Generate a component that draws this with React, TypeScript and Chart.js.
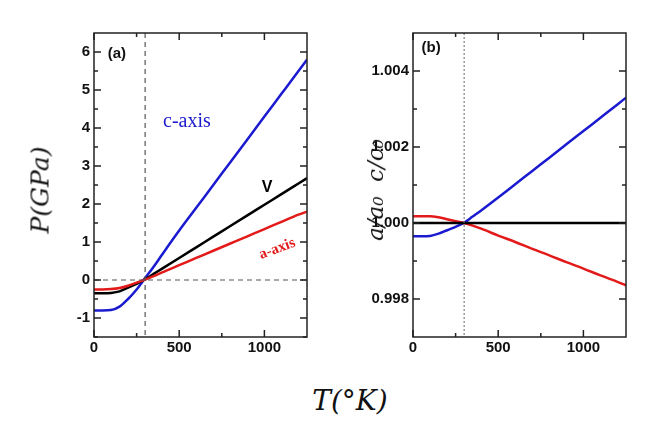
import React, { useEffect, useRef } from "react";
import { Chart, registerables } from "chart.js";
Chart.register(...registerables);

const temps = [0, 50, 100, 150, 200, 250, 300, 350, 400, 500, 600, 700, 800, 900, 1000, 1100, 1200, 1250];
const pC = [-0.8, -0.8, -0.79, -0.7, -0.5, -0.25, 0.05, 0.35, 0.67, 1.3, 1.9, 2.5, 3.1, 3.7, 4.3, 4.9, 5.5, 5.8];
const pV = [-0.35, -0.35, -0.34, -0.3, -0.2, -0.1, 0.02, 0.16, 0.3, 0.58, 0.86, 1.14, 1.42, 1.7, 1.98, 2.26, 2.54, 2.68];
const pA = [-0.25, -0.25, -0.24, -0.21, -0.15, -0.07, 0.01, 0.1, 0.2, 0.39, 0.58, 0.77, 0.96, 1.15, 1.34, 1.53, 1.72, 1.8];
const rC = [0.99965, 0.99965, 0.99966, 0.99972, 0.99981, 0.9999, 1.00001, 1.00017, 1.00033, 1.00067, 1.00102, 1.00137, 1.00172, 1.00207, 1.00242, 1.00277, 1.00312, 1.0033];
const rA = [1.00018, 1.00018, 1.00018, 1.00015, 1.0001, 1.00005, 1.0, 0.99993, 0.99985, 0.99967, 0.9995, 0.99932, 0.99915, 0.99897, 0.9988, 0.99862, 0.99845, 0.99836];
const rV = temps.map(() => 1.0);
const xMajor = [0, 500, 1000];
const xMinor = [250, 750];
const yMajorA = [-1, 0, 1, 2, 3, 4, 5, 6];
const yMinorA = [-1.5, -0.5, 0.5, 1.5, 2.5, 3.5, 4.5, 5.5];
const yMajorB = [0.998, 1.0, 1.002, 1.004];
const yMinorB = [0.999, 1.001, 1.003];

const BLUE = "#1a1ad0", RED = "#e31a1a", BLACK = "#000";
const tickFont = { family: "Liberation Sans", size: 15, weight: "bold" as const };

function framePlugin(yMaj: number[], yMin: number[], extra: (c: any) => void) {
  return {
    id: "frame",
    afterDatasetsDraw(c: any) {
      const { ctx, chartArea: a, scales } = c;
      const x = scales.x, y = scales.y;
      ctx.save();
      extra(c);
      ctx.strokeStyle = "#222";
      ctx.lineWidth = 1.5;
      ctx.setLineDash([]);
      ctx.strokeRect(a.left, a.top, a.right - a.left, a.bottom - a.top);
      const tick = (v: number, L: number) => {
        const px = x.getPixelForValue(v);
        ctx.beginPath();
        ctx.moveTo(px, a.bottom); ctx.lineTo(px, a.bottom - L);
        ctx.moveTo(px, a.top); ctx.lineTo(px, a.top + L);
        ctx.stroke();
      };
      xMajor.forEach((v) => tick(v, 7));
      xMinor.forEach((v) => tick(v, 4));
      const ytick = (v: number, L: number) => {
        const py = y.getPixelForValue(v);
        ctx.beginPath();
        ctx.moveTo(a.left, py); ctx.lineTo(a.left + L, py);
        ctx.moveTo(a.right, py); ctx.lineTo(a.right - L, py);
        ctx.stroke();
      };
      yMaj.forEach((v) => ytick(v, 7));
      yMin.forEach((v) => ytick(v, 4));
      ctx.restore();
    },
  };
}

function makeOpts(ymin: number, ymax: number, yMaj: number[], yw: number, padR: number, fmt: (v: number) => string): any {
  return {
    animation: false,
    responsive: false,
    layout: { padding: { top: 13, right: padR, left: 0, bottom: 0 } },
    plugins: { legend: { display: false }, tooltip: { enabled: false } },
    elements: { point: { radius: 0 }, line: { borderWidth: 2.5 } },
    scales: {
      x: {
        type: "linear", min: 0, max: 1250,
        afterBuildTicks: (s: any) => { s.ticks = xMajor.map((v) => ({ value: v })); },
        ticks: { color: "#111", font: tickFont, padding: 2, maxRotation: 0, callback: (v: number) => String(v) },
        grid: { drawOnChartArea: false, drawTicks: false },
        border: { display: false },
        afterFit: (s: any) => { s.height = 28; },
      },
      y: {
        type: "linear", min: ymin, max: ymax,
        afterBuildTicks: (s: any) => { s.ticks = yMaj.map((v) => ({ value: v })); },
        ticks: { color: "#111", font: tickFont, padding: 4, callback: (v: number) => fmt(v) },
        grid: { drawOnChartArea: false, drawTicks: false },
        border: { display: false },
        afterFit: (s: any) => { s.width = yw; },
      },
    },
  };
}

function ds(data: number[], color: string) {
  return { data: temps.map((t, i) => ({ x: t, y: data[i] })), borderColor: color, backgroundColor: color, cubicInterpolationMode: "monotone" as const };
}

export default function App() {
  const ra = useRef<HTMLCanvasElement>(null);
  const rb = useRef<HTMLCanvasElement>(null);
  useEffect(() => {
    const ca = new Chart(ra.current!, {
      type: "line",
      data: { datasets: [ds(pA, RED), ds(pV, BLACK), ds(pC, BLUE)] },
      options: makeOpts(-1.5, 6.5, yMajorA, 44, 13, (v) => String(v)),
      plugins: [framePlugin(yMajorA, yMinorA, (c: any) => {
        const { ctx, chartArea: a, scales: { x, y } } = c;
        ctx.strokeStyle = "#555"; ctx.lineWidth = 1.2; ctx.setLineDash([5, 4]);
        ctx.beginPath();
        const px = x.getPixelForValue(300), py = y.getPixelForValue(0);
        ctx.moveTo(px, a.top); ctx.lineTo(px, a.bottom);
        ctx.moveTo(a.left, py); ctx.lineTo(a.right, py);
        ctx.stroke(); ctx.setLineDash([]);
        ctx.textBaseline = "middle";
        ctx.fillStyle = "#111"; ctx.font = "bold 15px Liberation Sans";
        ctx.fillText("(a)", x.getPixelForValue(80), y.getPixelForValue(5.95));
        ctx.fillStyle = BLUE; ctx.font = "20px Liberation Serif";
        ctx.fillText("c-axis", x.getPixelForValue(405), y.getPixelForValue(4.16));
        ctx.fillStyle = "#000"; ctx.font = "bold 16px Liberation Sans";
        ctx.fillText("V", x.getPixelForValue(985), y.getPixelForValue(2.42));
        ctx.save();
        ctx.translate(x.getPixelForValue(1075), y.getPixelForValue(0.82));
        ctx.rotate(-0.36);
        ctx.fillStyle = RED; ctx.font = "bold 15px Liberation Serif"; ctx.textAlign = "center";
        ctx.fillText("a-axis", 0, 0);
        ctx.restore();
      })],
    } as any);
    const cb = new Chart(rb.current!, {
      type: "line",
      data: { datasets: [ds(rV, BLACK), ds(rA, RED), ds(rC, BLUE)] },
      options: makeOpts(0.997, 1.005, yMajorB, 58, 14, (v) => v.toFixed(3)),
      plugins: [framePlugin(yMajorB, yMinorB, (c: any) => {
        const { ctx, chartArea: a, scales: { x, y } } = c;
        ctx.strokeStyle = "#666"; ctx.lineWidth = 1; ctx.setLineDash([2, 2]);
        const px = x.getPixelForValue(300);
        ctx.beginPath(); ctx.moveTo(px, a.top); ctx.lineTo(px, a.bottom); ctx.stroke();
        ctx.setLineDash([]);
        ctx.textBaseline = "middle";
        ctx.fillStyle = "#111"; ctx.font = "bold 15px Liberation Sans";
        ctx.fillText("(b)", x.getPixelForValue(50), y.getPixelForValue(1.0046));
      })],
    } as any);
    return () => { ca.destroy(); cb.destroy(); };
  }, []);
  const ax: React.CSSProperties = { position: "absolute", fontFamily: "DejaVu Serif", fontStyle: "italic", fontSize: 25, color: "#111", whiteSpace: "nowrap" };
  return (
    <div style={{ position: "relative", width: 630, height: 409, background: "#fff" }}>
      <canvas ref={ra} width={270} height={345} style={{ position: "absolute", left: 42, top: 12 }} />
      <canvas ref={rb} width={285} height={345} style={{ position: "absolute", left: 347, top: 12 }} />
      <div style={{ ...ax, left: 32, top: 182, transform: "translate(-50%,-50%) rotate(-90deg)" }}>P(GPa)</div>
      <div style={{ ...ax, left: 367, top: 182, transform: "translate(-50%,-50%) rotate(-90deg)", fontSize: 23 }}>a/a₀ &nbsp;c/c₀</div>
      <div style={{ ...ax, left: 342, top: 392, transform: "translate(-50%,-50%)", fontSize: 28 }}>T(°K)</div>
    </div>
  );
}
